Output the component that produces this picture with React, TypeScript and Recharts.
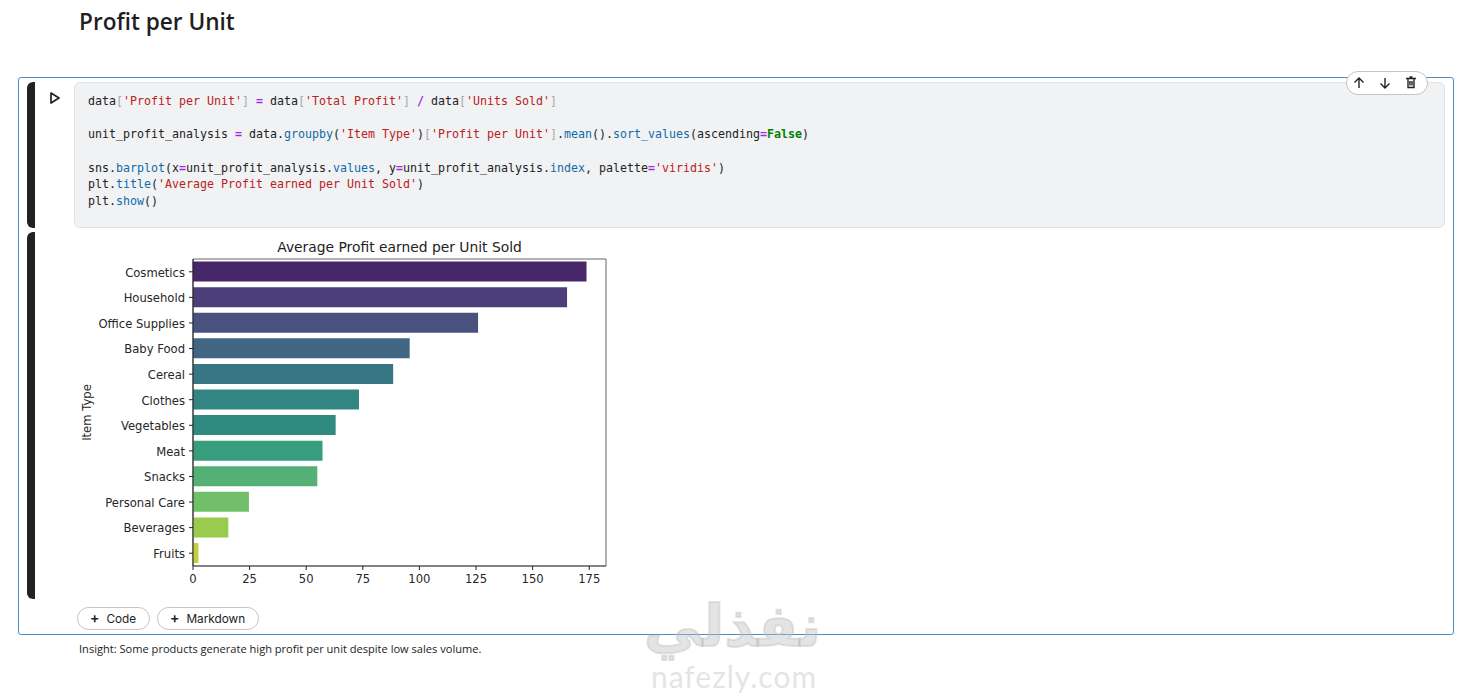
import React from 'react'
import { BarChart, Bar, XAxis, YAxis, Cell, ReferenceArea } from 'recharts'

const itemTypes = [
  'Cosmetics', 'Household', 'Office Supplies', 'Baby Food', 'Cereal', 'Clothes',
  'Vegetables', 'Meat', 'Snacks', 'Personal Care', 'Beverages', 'Fruits',
]
const profitPerUnit = [173.8, 165.2, 125.9, 95.7, 88.4, 73.3, 63, 57.2, 54.9, 24.7, 15.6, 2.4]
const xTicks = [0, 25, 50, 75, 100, 125, 150, 175]
const xMax = 182.4

// seaborn's desaturated viridis
const barColors = [
  '#48266a', '#4c3f79', '#49527f', '#406683', '#377685', '#338583',
  '#2f8b7f', '#379d7c', '#54b074', '#72bf69', '#99cb4f', '#c1cf3f',
]

const data = itemTypes.map((name, i) => ({ name, value: profitPerUnit[i] }))

const RED = '#ba2121'
const GREY = '#a9a9a9'
const PURPLE = '#a02be0'
const BLUE = '#0f6ba8'

type Piece = [string, string?, boolean?]

const codeLines: Piece[][] = [
  [['data'], ['[', GREY], ["'Profit per Unit'", RED], [']', GREY], [' '], ['=', PURPLE, true], [' data'], ['[', GREY], ["'Total Profit'", RED], [']', GREY], [' '], ['/', PURPLE, true], [' data'], ['[', GREY], ["'Units Sold'", RED], [']', GREY]],
  [],
  [['unit_profit_analysis '], ['=', PURPLE, true], [' data.'], ['groupby', BLUE], ['('], ["'Item Type'", RED], [')'], ['[', GREY], ["'Profit per Unit'", RED], [']', GREY], ['.'], ['mean', BLUE], ['().'], ['sort_values', BLUE], ['(ascending'], ['=', PURPLE, true], ['False', '#008000', true], [')']],
  [],
  [['sns.'], ['barplot', BLUE], ['(x'], ['=', PURPLE, true], ['unit_profit_analysis.'], ['values', BLUE], [', y'], ['=', PURPLE, true], ['unit_profit_analysis.'], ['index', BLUE], [', palette'], ['=', PURPLE, true], ["'viridis'", RED], [')']],
  [['plt.'], ['title', BLUE], ['('], ["'Average Profit earned per Unit Sold'", RED], [')']],
  [['plt.'], ['show', BLUE], ['()']],
]

const box = (left: number, top: number, width: number, height: number, extra: React.CSSProperties = {}): React.CSSProperties => ({
  position: 'absolute', left, top, width, height, boxSizing: 'border-box', ...extra,
})

const PillButton: React.FC<{ left: number; width: number; label: string }> = ({ left, width, label }) => (
  <div style={box(left, 607, width, 23, {
    border: '1px solid #c4c4c4', borderRadius: 12, background: '#fff', color: '#222',
    fontFamily: 'Inter', fontSize: 11.8, lineHeight: '19px', paddingLeft: 12, whiteSpace: 'pre',
  })}>
    <span style={{ fontSize: 14, fontWeight: 600, marginRight: 7 }}>+</span>{label}
  </div>
)

export default function App() {
  return (
    <div style={{ position: 'fixed', left: 0, top: 0, width: 1468, height: 693, background: '#fff', overflow: 'hidden' }}>
      <div style={box(79, 6, 400, 32, { fontFamily: 'Open Sans', fontWeight: 600, fontSize: 22.6, lineHeight: '32px', color: '#1f1f1f' })}>
        Profit per Unit
      </div>

      {/* notebook cell frame */}
      <div style={box(18, 77, 1436, 558, { border: '1px solid #4a8cc4', borderRadius: 3 })} />
      <div style={box(27, 82, 8, 146, { background: '#222', borderRadius: '6px 0 0 6px' })} />
      <div style={box(27, 232, 8, 367, { background: '#222', borderRadius: '6px 0 0 6px' })} />

      <svg style={box(48, 91, 14, 14)} viewBox="0 0 14 14">
        <path d="M3 2 L11 7 L3 12 Z" fill="none" stroke="#222" strokeWidth="1.7" strokeLinejoin="round" />
      </svg>

      <div style={box(74, 82, 1371, 146, { background: '#f1f2f4', border: '1px solid #e2e3e5', borderRadius: 6 })} />
      <pre style={box(88, 93, 1000, 125, {
        margin: 0, fontFamily: 'DejaVu Sans Mono', fontSize: 11.63, lineHeight: '16.7px', color: '#222',
      })}>
        {codeLines.map((line, i) => (
          <div key={i} style={{ height: 16.7 }}>
            {line.map(([t, c, b], j) => (
              <span key={j} style={{ color: c, fontWeight: b ? 700 : 400 }}>{t}</span>
            ))}
          </div>
        ))}
      </pre>

      {/* cell toolbar */}
      <div style={box(1346, 71, 82, 24, { background: '#fff', border: '1px solid #c4c4c4', borderRadius: 12 })} />
      <svg style={box(1345, 70.5, 82, 24)} viewBox="0 0 82 24" fill="none" stroke="#222" strokeWidth="1.4">
        <path d="M14 17 V7 M9.5 11.5 L14 7 L18.5 11.5" />
        <path d="M40 7 V17 M35.5 12.5 L40 17 L44.5 12.5" />
        <path d="M61 7.5 H71 M63 7.5 V16.5 H69 V7.5 M64.5 6 H67.5 M65 10 V14.5 M67 10 V14.5" />
      </svg>

      <div style={box(193, 238, 413, 18, {
        textAlign: 'center', fontFamily: 'DejaVu Sans', fontSize: 13.85, lineHeight: '18px', color: '#222', whiteSpace: 'nowrap',
      })}>
        Average Profit earned per Unit Sold
      </div>

      <div style={{ position: 'absolute', left: 75, top: 235 }}>
        <BarChart
          width={545}
          height={361}
          data={data}
          layout="vertical"
          barCategoryGap="10%"
          margin={{ top: 24, right: 14, bottom: 0, left: 0 }}
        >
          <XAxis
            type="number"
            domain={[0, xMax]}
            ticks={xTicks}
            interval={0}
            height={30}
            tick={{ fill: '#262626', fontSize: 11.6, fontFamily: 'DejaVu Sans' }}
            tickSize={4}
            tickMargin={5}
            tickLine={{ stroke: '#222' }}
            axisLine={{ stroke: '#555' }}
          />
          <YAxis
            type="category"
            dataKey="name"
            width={118}
            interval={0}
            tick={{ fill: '#262626', fontSize: 11.6, fontFamily: 'DejaVu Sans', dy: 0.7 }}
            tickSize={4}
            tickMargin={4}
            tickLine={{ stroke: '#222' }}
            axisLine={{ stroke: '#222' }}
            label={{
              value: 'Item Type', angle: -90, position: 'insideLeft', offset: 12,
              style: { fill: '#262626', fontSize: 11.6, fontFamily: 'DejaVu Sans', textAnchor: 'middle' },
            }}
          />
          <Bar dataKey="value" isAnimationActive={false}>
            {data.map((d, i) => (
              <Cell key={d.name} fill={barColors[i]} />
            ))}
          </Bar>
          <ReferenceArea x1={0} x2={xMax} fill="none" stroke="#666" strokeWidth={1} />
        </BarChart>
      </div>

      <PillButton left={77} width={73} label="Code" />
      <PillButton left={157} width={102} label="Markdown" />

      <div style={box(79, 640, 600, 18, { fontFamily: 'Open Sans', fontSize: 11.08, lineHeight: '18px', color: '#222', whiteSpace: 'nowrap' })}>
        Insight: Some products generate high profit per unit despite low sales volume.
      </div>

      {/* site watermark */}
      <div dir="rtl" style={box(630, 588, 205, 76, {
        fontFamily: 'DejaVu Sans', fontWeight: 700, fontSize: 58, lineHeight: '76px', textAlign: 'center',
        color: 'rgba(190,190,190,0.42)', WebkitTextStroke: '2px rgba(190,190,190,0.42)', whiteSpace: 'nowrap',
      })}>
        نفذلي
      </div>
      <div style={box(630, 659, 208, 34, {
        fontFamily: 'Lato', fontSize: 30, lineHeight: '34px', textAlign: 'center', letterSpacing: 1,
        color: 'rgba(190,190,190,0.42)', whiteSpace: 'nowrap',
      })}>
        nafezly.com
      </div>
    </div>
  )
}
